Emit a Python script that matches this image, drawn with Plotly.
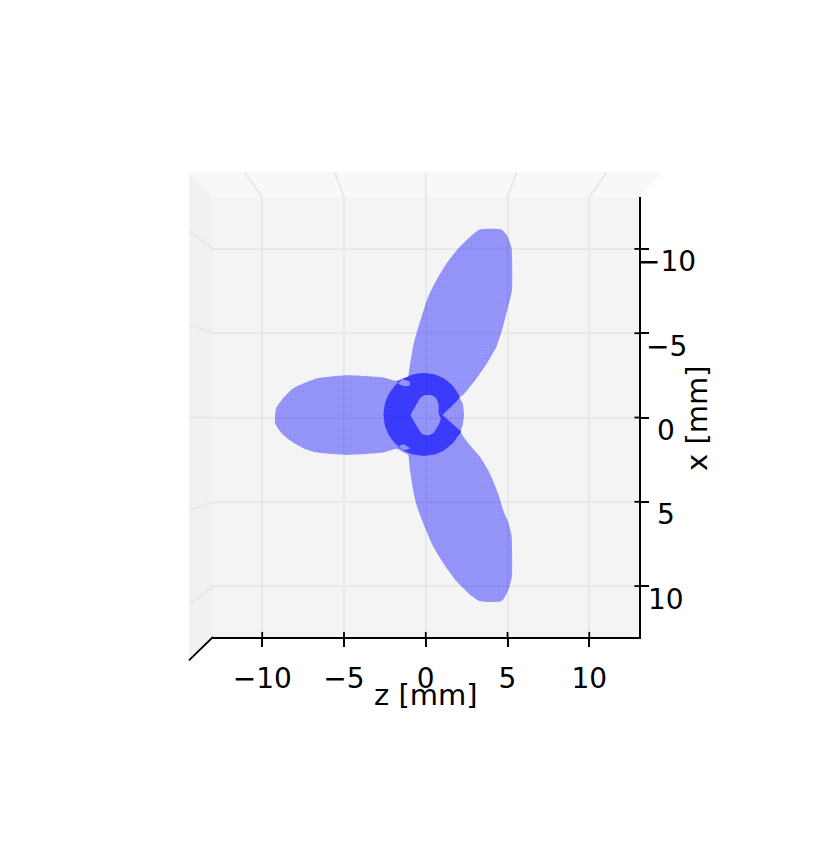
import plotly.graph_objects as go

# ticks shared by both axes (mm)
tick_vals = [-10, -5, 0, 5, 10]
z_range = [-13.01, 13.04]
x_range = [13.02, -13.08]

# where the gridlines end on the outer edge of the side walls (perspective)
wall_left_z = -14.48
wall_left_x = [-11.09, -5.53, 0, 5.53, 11.09]
wall_top_x = -14.53
wall_top_z = [-11.06, -5.56, 0, 5.56, 11.06]
wall_right_z = 14.48
wall_bottom_x = 14.41

# outline of the propeller seen from above, clockwise: blade, hub arc, blade, blade
outline_z = [-1.08, -0.98, -0.78, -0.57, -0.26, 0.14, 0.65, 1.26, 1.88, 2.58, 3.30, 4.62, 4.97, 5.24,
             5.27, 5.03, 4.72, 4.32, 3.74, 3.10, 2.28, 2.08, 2.26, 2.34, 2.26, 2.14, 2.69, 3.30, 3.91,
             4.42, 4.76, 4.99, 5.24, 5.27, 5.13, 4.93, 4.62, 3.30, 2.69, 1.88, 1.06, 0.45, -0.16, -0.57,
             -0.81, -0.98, -1.08, -1.40, -1.79, -2.61, -4.84, -6.68, -7.50, -8.20, -8.82, -9.21, -9.16, -8.72,
             -8.11, -7.50, -6.68, -4.84, -2.61, -1.79, -1.40]
outline_x = [-2.41, -3.01, -4.19, -4.98, -5.96, -7.15, -8.14, -9.12, -9.91, -10.60, -11.15, -11.15, -10.80, -10.07,
             -7.54, -6.56, -5.37, -4.19, -3.21, -2.32, -1.33, -1.21, -0.82, -0.18, 0.46, 0.86, 1.63, 2.32, 3.30,
             4.49, 5.57, 6.07, 6.95, 9.42, 10.01, 10.50, 10.90, 10.90, 10.50, 9.72, 8.63, 7.64, 6.26, 5.18,
             4.09, 3.01, 2.22, 2.05, 1.86, 2.08, 2.22, 2.08, 1.82, 1.43, 0.93, 0.34, -0.54, -1.14,
             -1.73, -2.02, -2.32, -2.51, -2.38, -2.18, -2.33]

# hub ring, open on the right side
hub_z = [2.18, 2.01, 1.62, 1.11, 0.52, -0.12, -0.76, -1.35, -1.86, -2.25, -2.50, -2.58, -2.50, -2.25, -1.86,
         -1.35, -0.76, -0.12, 0.52, 1.11, 1.62, 2.08, 1.02]
hub_x = [0.84, 1.05, 1.56, 1.95, 2.20, 2.28, 2.20, 1.95, 1.56, 1.05, 0.46, -0.18, -0.82, -1.41, -1.92,
         -2.31, -2.56, -2.64, -2.56, -2.31, -1.92, -1.21, -0.15]

# lighter bits inside the hub
heart_z = [-0.37, -0.06, 0.35, 0.65, 0.79, 0.79, 0.92, 0.75, 0.45, 0.14, -0.20, -0.47, -0.71, -0.92, -0.71]
heart_x = [-1.13, -1.33, -1.33, -1.13, -0.74, -0.25, 0.09, 0.50, 0.94, 1.07, 1.00, 0.64, 0.25, -0.15, -0.54]
patch_top_z = [-1.79, -1.39, -0.98, -0.98, -1.28, -1.59]
patch_top_x = [-2.12, -2.26, -2.12, -1.92, -1.86, -1.96]
patch_low_z = [-1.69, -1.39, -0.98, -1.22, -1.55]
patch_low_x = [1.76, 1.59, 1.82, 1.92, 1.86]


def dom_z(v):
    return (v - z_range[0]) / (z_range[1] - z_range[0])


def dom_x(v):
    return (v - x_range[0]) / (x_range[1] - x_range[0])


def wall_shape(zs, xs, color):
    path = "M " + " L ".join(f"{dom_z(a):.4f} {dom_x(b):.4f}" for a, b in zip(zs, xs)) + " Z"
    return dict(type="path", path=path, xref="x domain", yref="y domain", line_width=0, fillcolor=color, layer="below")


def seg_shape(z0, x0, z1, x1, color, width, layer="below"):
    return dict(type="line", xref="x domain", yref="y domain", x0=dom_z(z0), y0=dom_x(x0), x1=dom_z(z1), y1=dom_x(x1),
                line=dict(color=color, width=width), layer=layer)


shapes = [
    wall_shape([wall_left_z, z_range[0], z_range[0], wall_left_z], [wall_top_x, x_range[1], x_range[0], wall_bottom_x], "#f1f1f1"),
    wall_shape([wall_left_z, wall_right_z, z_range[1], z_range[0]], [wall_top_x, wall_top_x, x_range[1], x_range[1]], "#f8f8f8"),
]
for v, edge in zip(tick_vals, wall_left_x):
    shapes.append(seg_shape(z_range[0], v, wall_left_z, edge, "#e8e8e8", 2))
for v, edge in zip(tick_vals, wall_top_z):
    shapes.append(seg_shape(v, x_range[1], edge, wall_top_x, "#e8e8e8", 2))
# corner line of the 3d box
shapes.append(seg_shape(z_range[0], x_range[0], wall_left_z, wall_bottom_x, "black", 1.8, "above"))
# 3d ticks also run a little inside the box
for v in tick_vals:
    shapes.append(seg_shape(v, x_range[0], v, x_range[0] - 0.3, "black", 1.8, "above"))
    shapes.append(seg_shape(z_range[1], v, z_range[1] - 0.28, v, "black", 1.8, "above"))

fig = go.Figure()
mesh = dict(shape="+", size=4, solidity=0.25, fgcolor="#0000ff", fgopacity=0.1)
fig.add_trace(go.Scatter(x=outline_z, y=outline_x, mode="lines", fill="toself",
                         line=dict(width=0, shape="spline", smoothing=0.5),
                         fillcolor="rgba(0,0,255,0.39)", fillpattern=dict(bgcolor="rgba(0,0,255,0.38)", **mesh),
                         hoverinfo="skip"))
ring_z = hub_z + [None] + heart_z[::-1] + [None] + patch_top_z[::-1] + [None] + patch_low_z[::-1]
ring_x = hub_x + [None] + heart_x[::-1] + [None] + patch_top_x[::-1] + [None] + patch_low_x[::-1]
fig.add_trace(go.Scatter(x=ring_z, y=ring_x, mode="lines", fill="toself",
                         line=dict(width=0, shape="spline", smoothing=0.4),
                         fillcolor="rgba(0,0,255,0.6)", hoverinfo="skip"))

label_font = dict(family="DejaVu Sans", size=28, color="black")
title_font = dict(family="DejaVu Sans", size=29, color="black")
annotations = []
for v in tick_vals:
    annotations.append(dict(x=dom_z(14.72), y=dom_x(v), xref="paper", yref="paper", yshift=-13, showarrow=False,
                            xanchor="center", yanchor="middle", text=str(v).replace("-", "\u2212"), font=label_font))
annotations.append(dict(x=dom_z(0), y=dom_x(16.48), xref="paper", yref="paper", showarrow=False, text="z [mm]",
                        xanchor="center", yanchor="middle", font=title_font))
annotations.append(dict(x=dom_z(16.55), y=dom_x(0), xref="paper", yref="paper", showarrow=False, text="x [mm]",
                        textangle=-90, xanchor="center", yanchor="middle", font=title_font))

fig.update_layout(
    width=823, height=849, showlegend=False,
    margin=dict(l=205, r=191.5, t=188.5, b=219.5),
    paper_bgcolor="white", plot_bgcolor="#f4f4f4",
    shapes=shapes, annotations=annotations,
    font=label_font,
)
fig.update_xaxes(range=z_range, tickmode="array", tickvals=tick_vals, showgrid=True, gridcolor="#e8e8e8", gridwidth=2,
                 zeroline=False, showline=True, linecolor="black", linewidth=1.8, ticks="outside", ticklen=8,
                 tickwidth=1.8, tickcolor="black", ticklabelstandoff=7)
fig.update_yaxes(range=x_range, side="right", tickmode="array", tickvals=tick_vals, showgrid=True, gridcolor="#e8e8e8",
                 gridwidth=2, zeroline=False, showline=True, linecolor="black", linewidth=1.8, ticks="outside", ticklen=8,
                 tickwidth=1.8, tickcolor="black", showticklabels=False)

fig.write_html("out.html")
